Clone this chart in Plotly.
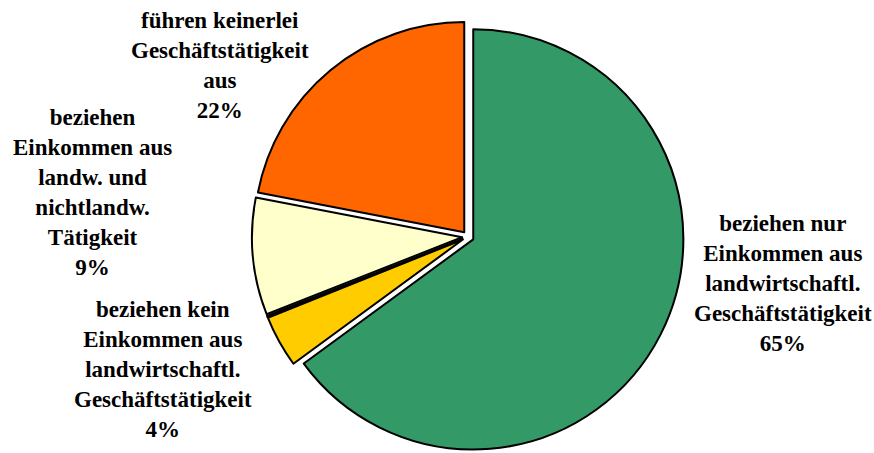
import plotly.graph_objects as go

# Shares of farm households by type of income source (clockwise from 12 o'clock)
labels = [
    "beziehen nur\nEinkommen aus\nlandwirtschaftl.\nGeschäftstätigkeit",
    "beziehen kein\nEinkommen aus\nlandwirtschaftl.\nGeschäftstätigkeit",
    "",
    "beziehen\nEinkommen aus\nlandw. und\nnichtlandw.\nTätigkeit",
    "führen keinerlei\nGeschäftstätigkeit\naus",
]
values = [65, 4, 0.1, 9, 22]
colors = ["#339966", "#FFCC00", "#808080", "#FFFFCC", "#FF6600"]

# label block centres in pixels (x, y from top)
label_pos = [(783, 283), (163, 369), None, (92, 193), (220, 65)]

W, H = 874, 453

fig = go.Figure(
    go.Pie(
        values=values,
        labels=[f"s{i}" for i in range(len(values))],
        sort=False,
        direction="clockwise",
        rotation=0,
        pull=[0.028] * len(values),
        marker=dict(colors=colors, line=dict(color="black", width=2)),
        textinfo="none",
        hoverinfo="skip",
        showlegend=False,
        domain=dict(x=[(468 - 216) / W, (468 + 216) / W], y=[0.0, 0.955]),
    )
)

for lab, val, pos in zip(labels, values, label_pos):
    if pos is None:
        continue
    text = "<b>" + "<br>".join(lab.split("\n")) + f"<br>{val:g}%</b>"
    fig.add_annotation(
        text=text,
        x=pos[0] / W,
        y=1 - pos[1] / H,
        xref="paper",
        yref="paper",
        xanchor="center",
        yanchor="middle",
        align="center",
        showarrow=False,
        font=dict(family="Liberation Serif, Times New Roman, serif", size=23, color="black"),
    )

fig.update_layout(
    width=W,
    height=H,
    margin=dict(l=0, r=0, t=0, b=0),
    paper_bgcolor="white",
    plot_bgcolor="white",
)

fig.write_html("out.html")
